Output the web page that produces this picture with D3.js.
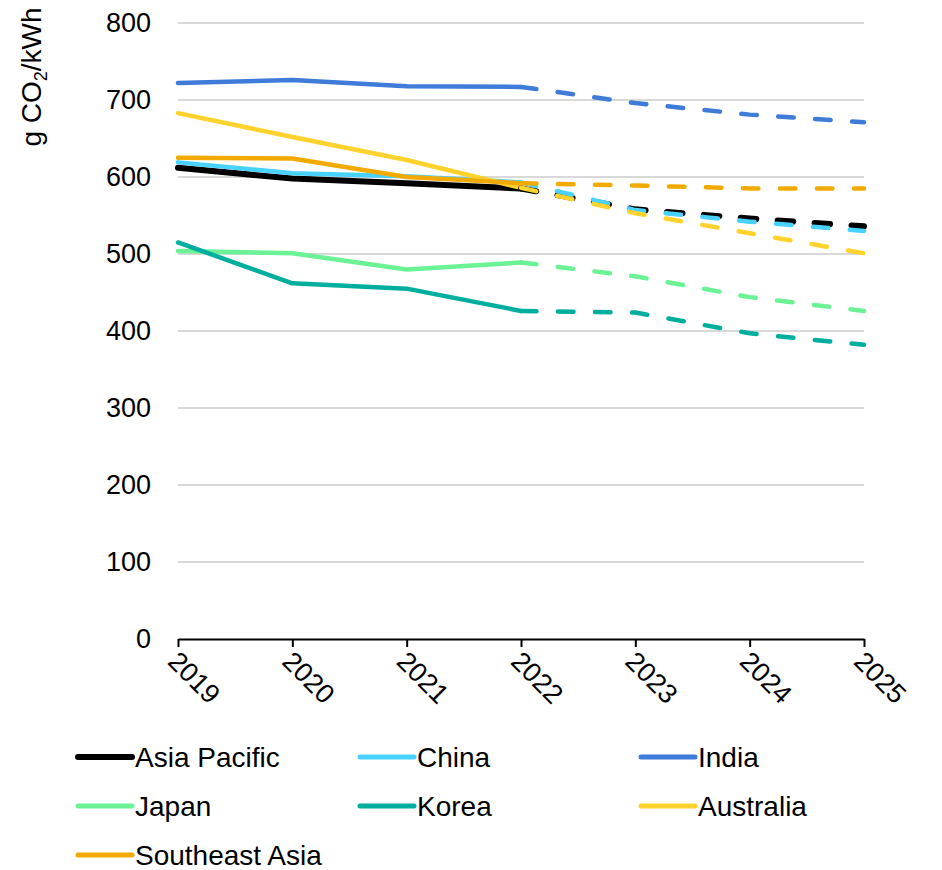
<!DOCTYPE html>
<html><head><meta charset="utf-8">
<script src="https://cdn.jsdelivr.net/npm/d3@7/dist/d3.min.js"></script>
<style>
html,body{margin:0;padding:0;background:#fff;}
svg text{font-family:"Liberation Sans",Arial,sans-serif;fill:#000;}
</style></head>
<body>
<svg id="chart" width="942" height="870"></svg>
<script>
const years = [2019, 2020, 2021, 2022, 2023, 2024, 2025];
const yTicks = [0, 100, 200, 300, 400, 500, 600, 700, 800];
const seriesNames = ["Asia Pacific", "China", "India", "Japan", "Korea", "Australia", "Southeast Asia"];
const seriesColors = ["#000000", "#48D2FF", "#3F7BD8", "#6AF295", "#00AE9E", "#FFD22E", "#F2AA00"];
const asiaPacific = [612, 598, 592, 585, 558, 546, 536];
const china = [619, 605, 601, 593, 557, 542, 530];
const india = [722, 726, 718, 717, 696, 681, 671];
const japan = [504, 501, 480, 489, 471, 444, 426];
const korea = [515, 462, 455, 426, 424, 397, 382];
const australia = [683, 652, 622, 586, 553, 527, 501];
const southeastAsia = [625, 624, 600, 592, 589, 585, 585];
const seriesValues = [asiaPacific, china, india, japan, korea, australia, southeastAsia];
const actualLast = 2022;

const svg = d3.select("#chart");
const x = d3.scaleLinear().domain([2019, 2025]).range([178, 864]);
const y = d3.scaleLinear().domain([0, 800]).range([639, 23]);
const FONT = '"Liberation Sans",Arial,sans-serif';

// gridlines
svg.append("g").selectAll("line").data(yTicks.filter(d => d > 0)).join("line")
  .attr("x1", x(2019)).attr("x2", x(2025))
  .attr("y1", d => y(d)).attr("y2", d => y(d))
  .attr("stroke", "#d9d9d9").attr("stroke-width", 2);

// y axis labels
const yAxis = d3.axisLeft(y).tickValues(yTicks).tickSize(0).tickPadding(27);
const gy = svg.append("g").attr("transform", `translate(${x(2019)},0)`).call(yAxis);
gy.select(".domain").remove();
gy.selectAll("text").style("font-size", "27px").style("font-family", FONT).attr("fill", "#000");

// x axis
const xAxis = d3.axisBottom(x).tickValues(years).tickFormat(d3.format("d")).tickSize(8).tickSizeOuter(0);
const gx = svg.append("g").attr("transform", `translate(0,${y(0)})`).call(xAxis);
gx.select(".domain").attr("stroke", "#000").attr("stroke-width", 2);
gx.selectAll(".tick line").attr("stroke", "#000").attr("stroke-width", 2);
gx.selectAll(".tick text")
  .style("font-size", "27px").style("font-family", FONT).attr("fill", "#000")
  .attr("text-anchor", "start").attr("dy", null).attr("y", 0)
  .attr("transform", "translate(-12,24) rotate(45)");

// y title
const yt = svg.append("text").attr("transform", "translate(41,77) rotate(-90)")
  .attr("text-anchor", "middle").style("font-size", "28px");
yt.append("tspan").text("g CO");
yt.append("tspan").text("2").style("font-size", "18px").attr("dy", 6);
yt.append("tspan").text("/kWh").attr("dy", -6);

// lines
const line = d3.line().x(d => x(d.year)).y(d => y(d.value));
const gl = svg.append("g");
seriesValues.forEach((vals, i) => {
  const pts = years.map((yr, j) => ({year: yr, value: vals[j]}));
  const w = i === 0 ? 6 : 4.5;
  gl.append("path").datum(pts.filter(p => p.year <= actualLast)).attr("d", line)
    .attr("fill", "none").attr("stroke", seriesColors[i]).attr("stroke-width", w)
    .attr("stroke-linejoin", "round").attr("stroke-linecap", "round");
});
seriesValues.forEach((vals, i) => {
  const pts = years.map((yr, j) => ({year: yr, value: vals[j]}));
  const w = i === 0 ? 6 : 4.5;
  gl.append("path").datum(pts.filter(p => p.year >= actualLast)).attr("d", line)
    .attr("fill", "none").attr("stroke", seriesColors[i]).attr("stroke-width", w)
    .attr("stroke-linejoin", "round").attr("stroke-linecap", "round")
    .attr("stroke-dasharray", "15.5 21.5");
});

// legend
const colX = [78, 360, 641];
const rowY = [757, 806, 855];
const lg = svg.append("g");
seriesNames.forEach((name, i) => {
  const cx = colX[i % 3], cy = rowY[Math.floor(i / 3)];
  lg.append("line").attr("x1", cx).attr("x2", cx + 54).attr("y1", cy).attr("y2", cy)
    .attr("stroke", seriesColors[i]).attr("stroke-width", i === 0 ? 6 : 5).attr("stroke-linecap", "round");
  lg.append("text").attr("x", cx + 57).attr("y", cy).attr("dy", "0.35em")
    .style("font-size", "28px").text(name);
});
</script>
</body></html>
